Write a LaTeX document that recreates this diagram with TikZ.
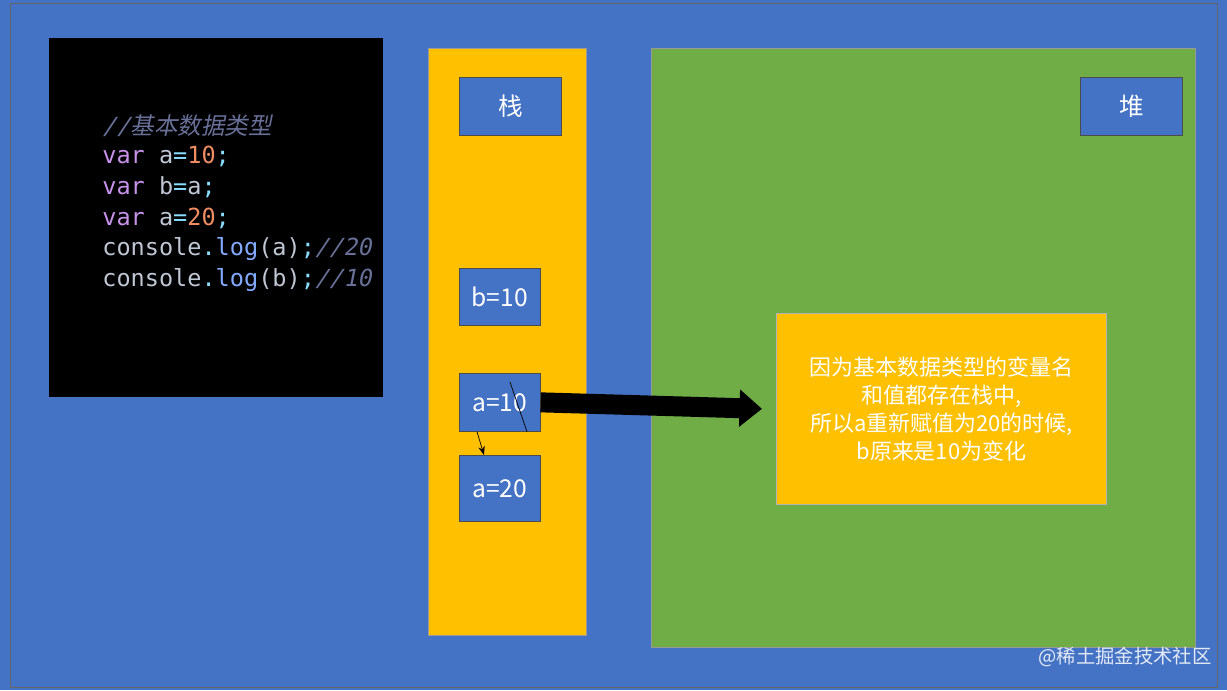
\documentclass[tikz,border=0pt]{standalone}
\usepackage{fontspec}
\setmainfont{Noto Sans CJK SC}
\newfontfamily\cjk{Noto Sans CJK SC}
\newfontfamily\cjkit[FakeSlant=0.2]{Noto Sans CJK SC}
\newfontfamily\codefont{DejaVu Sans Mono}
\newfontfamily\codeit[FakeSlant=0.2]{DejaVu Sans Mono}
\usetikzlibrary{arrows.meta}
\definecolor{slideblue}{HTML}{4472C4}
\definecolor{stackyellow}{HTML}{FFC000}
\definecolor{heapgreen}{HTML}{70AD47}
\definecolor{kwpurple}{HTML}{C792EA}
\definecolor{numorange}{HTML}{F08D62}
\definecolor{eqcyan}{HTML}{89DDFF}
\definecolor{idgray}{HTML}{BFC7D5}
\definecolor{fnblue}{HTML}{82AAFF}
\definecolor{cmgray}{HTML}{697098}
\newcommand{\kw}[1]{\textcolor{kwpurple}{#1}}
\newcommand{\num}[1]{\textcolor{numorange}{#1}}
\newcommand{\eq}[1]{\textcolor{eqcyan}{#1}}
\newcommand{\fn}[1]{\textcolor{fnblue}{#1}}
\newcommand{\cm}[1]{\textcolor{cmgray}{\codeit #1}}
\begin{document}
\begin{tikzpicture}[x=0.02cm,y=-0.02cm,
  cell/.style={draw=black!70,fill=slideblue,text=white,anchor=north west,inner sep=0pt,font=\cjk\fontsize{14}{16}\selectfont},
  codeline/.style={anchor=west,inner sep=0pt,text=idgray,font=\codefont\fontsize{13.4}{15}\selectfont}]
\useasboundingbox (0,0) rectangle (1227,690);
\fill[slideblue] (0,0) rectangle (1227,690);
\draw[black!60] (10,3) rectangle (1217,687);
% code panel
\fill[black] (49,38) rectangle (383,397);
\node[codeline] (c0) at (102,126) {\cm{//}\textcolor{cmgray}{\cjkit 基本数据类型}};
\node[codeline] (c1) at (102,156) {\kw{var} a\eq{=}\num{10}\eq{;}};
\node[codeline] (c2) at (102,187) {\kw{var} b\eq{=}a\eq{;}};
\node[codeline] (c3) at (102,218) {\kw{var} a\eq{=}\num{20}\eq{;}};
\node[codeline] (c4) at (102,249) {console\eq{.}\fn{log}(a)\eq{;}\cm{//20}};
\node[codeline] (c5) at (102,280) {console\eq{.}\fn{log}(b)\eq{;}\cm{//10}};
% stack and heap
\fill[stackyellow,draw=black!40] (428,48) rectangle (586,635);
\fill[heapgreen,draw=black!40] (651,48) rectangle (1195,647);
\node[cell,minimum width=2.04cm,minimum height=1.16cm] (stack) at (459,77) {栈};
\node[cell,minimum width=2.04cm,minimum height=1.16cm] (heap) at (1080,77) {堆};
\node[cell,minimum width=1.62cm,minimum height=1.14cm] (b10) at (459,268) {b=10};
\node[cell,minimum width=1.62cm,minimum height=1.16cm] (a10) at (459,373) {a=10};
\node[cell,minimum width=1.62cm,minimum height=1.32cm] (a20) at (459,455) {a=20};
\node[fill=stackyellow,draw=black!30,anchor=north west,minimum width=6.6cm,minimum height=3.82cm,
  text=white,align=center,inner sep=0pt,font=\cjk\fontsize{12.5}{16}\selectfont] (note) at (776,313)
  {因为基本数据类型的变量名\\和值都存在栈中,\\所以a重新赋值为20的时候,\\b原来是10为变化};
% connectors
\draw[black] ([xshift=1.02cm,yshift=-0.18cm]a10.north west) -- ([xshift=1.36cm]a10.south west);
\draw[-{Stealth[length=5pt]},black] ([xshift=0.36cm]a10.south west) -- ([xshift=0.5cm]a20.north west);
\draw[line width=0.4cm,-{Triangle[length=0.45cm,width=0.72cm]}] (a10.east) -- ([xshift=-0.28cm]note.west);
\node[text=white!85!slideblue,font=\cjk\fontsize{11}{13}\selectfont] (mark) at (1125,657) {@稀土掘金技术社区};
\end{tikzpicture}
\end{document}
